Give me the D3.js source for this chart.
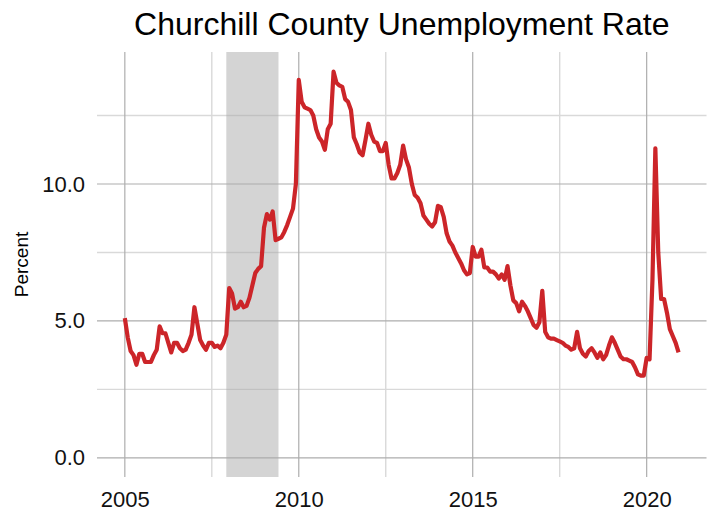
<!DOCTYPE html>
<html>
<head>
<meta charset="utf-8">
<script src="https://cdn.jsdelivr.net/npm/d3@7"></script>
<style>
  body { margin: 0; background: #fff; }
  text { font-family: "Liberation Sans", Arial, sans-serif; }
</style>
</head>
<body>
<div id="chart"></div>
<script>
// monthly unemployment rate, Jan 2005 .. Dec 2020
const startYear = 2005;
const rate = [
  5.1, 4.4, 3.9, 3.75, 3.4, 3.8, 3.8, 3.5, 3.5, 3.5, 3.75, 3.95,       // 2005
  4.8, 4.55, 4.55, 4.2, 3.85, 4.2, 4.2, 4.0, 3.9, 3.95, 4.2, 4.5,      // 2006
  5.5, 4.9, 4.3, 4.1, 3.95, 4.2, 4.2, 4.05, 4.1, 4.0, 4.2, 4.5,        // 2007
  6.2, 6.0, 5.45, 5.5, 5.7, 5.5, 5.55, 5.85, 6.3, 6.75, 6.9, 7.0,      // 2008
  8.4, 8.9, 8.7, 9.0, 7.95, 8.0, 8.05, 8.25, 8.5, 8.8, 9.1, 10.0,      // 2009
  13.8, 13.0, 12.8, 12.75, 12.7, 12.5, 12.0, 11.7, 11.55, 11.25, 12.0, 12.2, // 2010
  14.1, 13.7, 13.6, 13.55, 13.1, 13.0, 12.7, 11.7, 11.45, 11.15, 11.05, 11.6, // 2011
  12.2, 11.8, 11.55, 11.5, 11.2, 11.2, 11.5, 10.7, 10.2, 10.2, 10.4, 10.7,   // 2012
  11.4, 10.9, 10.6, 10.0, 9.6, 9.5, 9.3, 8.85, 8.7, 8.55, 8.45, 8.6,   // 2013
  9.2, 9.15, 8.8, 8.2, 7.9, 7.75, 7.5, 7.3, 7.1, 6.85, 6.7, 6.75,      // 2014
  7.7, 7.35, 7.35, 7.6, 6.95, 6.95, 6.8, 6.8, 6.7, 6.55, 6.7, 6.5,     // 2015
  7.0, 6.3, 5.75, 5.65, 5.35, 5.7, 5.55, 5.35, 5.1, 4.85, 4.75, 4.95,  // 2016
  6.1, 4.6, 4.4, 4.35, 4.35, 4.3, 4.25, 4.2, 4.1, 4.05, 3.95, 4.0,     // 2017
  4.6, 4.0, 3.8, 3.7, 3.9, 4.0, 3.85, 3.65, 3.85, 3.6, 3.75, 4.1,      // 2018
  4.4, 4.2, 3.95, 3.7, 3.6, 3.6, 3.55, 3.5, 3.3, 3.05, 3.0, 3.0,       // 2019
  3.65, 3.6, 6.5, 11.3, 7.5, 5.8, 5.8, 5.3, 4.7, 4.45, 4.2, 3.85       // 2020
];
const recession = [2007 + 11 / 12, 2009 + 5 / 12];   // Dec 2007 - Jun 2009
const xMajor = [2005, 2010, 2015, 2020];
const xMinor = [2007.5, 2012.5, 2017.5];
const yMajor = [0, 5, 10];
const yMinor = [2.5, 7.5, 12.5];

const data = rate.map((v, i) => ({ t: startYear + i / 12, v: v }));

const svgWidth = 715;
const svgHeight = 514;
const panel = { left: 97, right: 706.5, top: 52, bottom: 477 };

const svg = d3.select("#chart")
  .append("svg")
  .attr("width", svgWidth)
  .attr("height", svgHeight);

const x = d3.scaleLinear()
  .domain([2004.2, 2021.72])
  .range([panel.left, panel.right]);

const y = d3.scaleLinear()
  .domain([-0.7, 14.82])
  .range([panel.bottom, panel.top]);

// minor grid
svg.append("g").selectAll("line.hmin")
  .data(yMinor).enter().append("line")
  .attr("x1", panel.left).attr("x2", panel.right)
  .attr("y1", d => y(d)).attr("y2", d => y(d))
  .attr("stroke", "#d9d9d9").attr("stroke-width", 1.4);

svg.append("g").selectAll("line.vmin")
  .data(xMinor).enter().append("line")
  .attr("y1", panel.top).attr("y2", panel.bottom)
  .attr("x1", d => x(d)).attr("x2", d => x(d))
  .attr("stroke", "#d9d9d9").attr("stroke-width", 1.4);

// major grid
svg.append("g").selectAll("line.hmaj")
  .data(yMajor).enter().append("line")
  .attr("x1", panel.left).attr("x2", panel.right)
  .attr("y1", d => y(d)).attr("y2", d => y(d))
  .attr("stroke", "#adadad").attr("stroke-width", 1.2);

svg.append("g").selectAll("line.vmaj")
  .data(xMajor).enter().append("line")
  .attr("y1", panel.top).attr("y2", panel.bottom)
  .attr("x1", d => x(d)).attr("x2", d => x(d))
  .attr("stroke", "#adadad").attr("stroke-width", 1.2);

// recession shading
svg.append("rect")
  .attr("x", x(recession[0]))
  .attr("y", panel.top)
  .attr("width", x(recession[1]) - x(recession[0]))
  .attr("height", panel.bottom - panel.top)
  .attr("fill", "#a9a9a9")
  .attr("fill-opacity", 0.5);

// the line
const line = d3.line()
  .x(d => x(d.t))
  .y(d => y(d.v));

svg.append("path")
  .datum(data)
  .attr("d", line)
  .attr("fill", "none")
  .attr("stroke", "#cc2529")
  .attr("stroke-width", 4.2)
  .attr("stroke-linejoin", "round")
  .attr("stroke-linecap", "butt");

// axes (labels only, no domain / ticks)
const yAxis = d3.axisLeft(y).tickValues(yMajor).tickFormat(d3.format(".1f")).tickSize(0).tickPadding(12);
svg.append("g")
  .attr("transform", `translate(${panel.left},0)`)
  .call(yAxis)
  .call(g => g.select(".domain").remove())
  .selectAll("text")
  .attr("font-size", 22)
  .attr("font-family", "Liberation Sans, Arial, sans-serif")
  .attr("fill", "#111");

const xAxis = d3.axisBottom(x).tickValues(xMajor).tickFormat(d3.format("d")).tickSize(0).tickPadding(14);
svg.append("g")
  .attr("transform", `translate(0,${panel.bottom})`)
  .call(xAxis)
  .call(g => g.select(".domain").remove())
  .selectAll("text")
  .attr("font-size", 22)
  .attr("font-family", "Liberation Sans, Arial, sans-serif")
  .attr("fill", "#111");

// titles
svg.append("text")
  .attr("x", -(panel.top + panel.bottom) / 2)
  .attr("y", 28)
  .attr("transform", "rotate(-90)")
  .attr("text-anchor", "middle")
  .attr("font-size", 19)
  .attr("fill", "#000")
  .text("Percent");

svg.append("text")
  .attr("x", (panel.left + panel.right) / 2)
  .attr("y", 35)
  .attr("text-anchor", "middle")
  .attr("font-size", 32)
  .attr("fill", "#000")
  .text("Churchill County Unemployment Rate");
</script>
</body>
</html>
